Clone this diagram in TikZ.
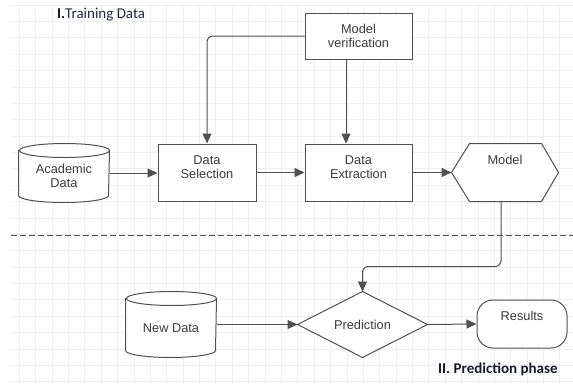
\documentclass[tikz,border=0pt]{standalone}
\usepackage{fontspec}
\setmainfont{Liberation Sans}
\newfontfamily\calfont{Carlito}
\usetikzlibrary{arrows.meta,calc}
\definecolor{lnc}{HTML}{505050}
\definecolor{txc}{HTML}{3C3C3C}
\definecolor{gridc}{HTML}{EFEFEF}
\definecolor{navy}{HTML}{1F2A44}
\definecolor{ttl}{HTML}{141A2A}
\begin{document}
\begin{tikzpicture}[x=1pt,y=-1pt,
  ln/.style={draw=lnc,line width=1pt},
  arr/.style={ln,-{Triangle[length=10pt,width=9pt]}},
  boxst/.style={draw=lnc,line width=1pt,fill=white,inner sep=0pt},
  ghost/.style={draw=none,inner sep=0pt,outer sep=0.5pt},
  txt/.style={text=txc,font=\fontsize{12.8}{13.5}\selectfont,align=center,inner sep=0pt},
  ttlst/.style={anchor=base west,inner sep=0pt,font=\calfont\fontsize{15}{18}\selectfont}]
\useasboundingbox (0,0) rectangle (573,383);
% grid
\foreach \i in {0,...,33} \draw[gridc,line width=0.8pt] ({19.3+\i*16.38},5) -- ({19.3+\i*16.38},383);
\foreach \j in {0,...,23} \draw[gridc,line width=0.8pt] (11,{5+\j*16.38}) -- (573,{5+\j*16.38});
% titles
\node[ttlst,text=ttl] (t1) at (57,18.5) {\textbf{I.}\textcolor{navy}{Training Data}};
\node[ttlst,text=ttl] (t2) at (438,373.3) {\textbf{II. Prediction phase}};
% dashed separator
\coordinate (dl) at (11,235);
\coordinate (dr) at (573,235);
\draw[lnc,line width=1pt,dash pattern=on 6pt off 3pt] (dl) -- (dr);
% Academic Data cylinder
\node[ghost,minimum width=90pt,minimum height=58pt] (acad) at (64,173) {};
\draw[boxst] ($(acad.north west)+(0,7)$) -- ($(acad.south west)+(0,-7)$)
  arc[start angle=180,end angle=360,x radius=45pt,y radius=7pt]
  -- ($(acad.north east)+(0,7)$)
  arc[start angle=0,end angle=180,x radius=45pt,y radius=7pt] -- cycle;
\draw[ln] ($(acad.north east)+(0,7)$) arc[start angle=0,end angle=-180,x radius=45pt,y radius=7pt];
\node[txt] at ([yshift=-3pt]acad.center) {Academic\\Data};
% boxes
\node[boxst,minimum width=98pt,minimum height=57pt] (sel) at (207,172.5) {};
\node[txt] at ([yshift=5.5pt]sel.center) {Data\\Selection};
\node[boxst,minimum width=107pt,minimum height=57pt] (ext) at (358.5,172.5) {};
\node[txt] at ([yshift=5.5pt]ext.center) {Data\\Extraction};
\node[boxst,minimum width=107pt,minimum height=46pt] (ver) at (358.5,36) {};
\node[txt] at (ver.center) {Model\\verification};
% Model hexagon
\node[ghost,minimum width=106pt,minimum height=57pt] (model) at (505,172.5) {};
\draw[boxst] (model.west) -- ($(model.north west)+(18,0)$) -- ($(model.north east)+(-17,0)$)
  -- (model.east) -- ($(model.south east)+(-17,0)$) -- ($(model.south west)+(18,0)$) -- cycle;
\node[txt] at ([yshift=12.5pt]model.center) {Model};
% New Data cylinder
\node[ghost,minimum width=90pt,minimum height=65pt] (newd) at (171,324.5) {};
\draw[boxst] ($(newd.north west)+(0,7)$) -- ($(newd.south west)+(0,-7)$)
  arc[start angle=180,end angle=360,x radius=45pt,y radius=7pt]
  -- ($(newd.north east)+(0,7)$)
  arc[start angle=0,end angle=180,x radius=45pt,y radius=7pt] -- cycle;
\draw[ln] ($(newd.north east)+(0,7)$) arc[start angle=0,end angle=-180,x radius=45pt,y radius=7pt];
\node[txt] at ([yshift=-3.5pt]newd.center) {New Data};
% Prediction diamond
\node[ghost,minimum width=129pt,minimum height=65pt] (pred) at (362.5,324.5) {};
\draw[boxst] (pred.west) -- (pred.north) -- (pred.east) -- (pred.south) -- cycle;
\node[txt] at (pred.center) {Prediction};
% Results
\node[boxst,rounded corners=16pt,minimum width=90pt,minimum height=48pt] (res) at (522,324) {};
\node[txt] at ([yshift=8pt]res.center) {Results};
% connectors
\draw[arr] (acad.east) -- (acad.east -| sel.west);
\draw[arr] (sel.east) -- (ext.west);
\draw[arr] (ext.east) -- (model.west);
\draw[arr,rounded corners=6pt] (ver.west) -| (sel.north);
\draw[arr] ([xshift=-12.5pt]ver.south) -- ([xshift=-12.5pt]ext.north);
\draw[arr,rounded corners=6pt] ([xshift=-4pt]model.south) -- ++(0,65) -| (pred.north);
\draw[arr] (newd.east) -- (newd.east -| pred.west);
\draw[arr] (pred.east) -- (res.west);
\end{tikzpicture}
\end{document}
